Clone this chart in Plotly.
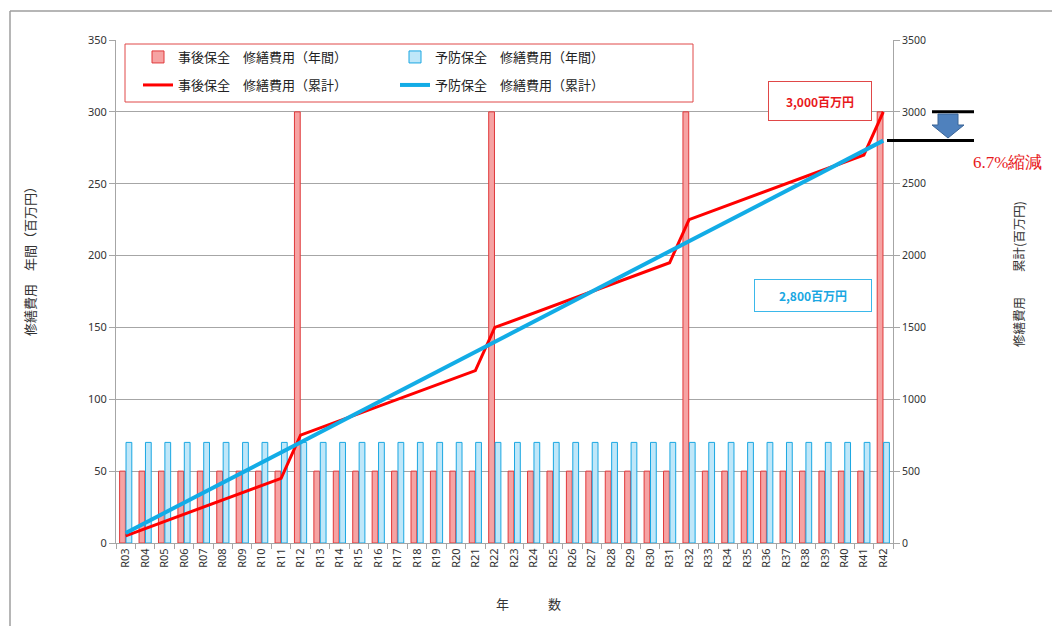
import plotly.graph_objects as go

# ---------------- data ----------------
years = ["R03", "R04", "R05", "R06", "R07", "R08", "R09", "R10", "R11", "R12",
         "R13", "R14", "R15", "R16", "R17", "R18", "R19", "R20", "R21", "R22",
         "R23", "R24", "R25", "R26", "R27", "R28", "R29", "R30", "R31", "R32",
         "R33", "R34", "R35", "R36", "R37", "R38", "R39", "R40", "R41", "R42"]

corrective_annual = [50, 50, 50, 50, 50, 50, 50, 50, 50, 300,
                     50, 50, 50, 50, 50, 50, 50, 50, 50, 300,
                     50, 50, 50, 50, 50, 50, 50, 50, 50, 300,
                     50, 50, 50, 50, 50, 50, 50, 50, 50, 300]

preventive_annual = [70, 70, 70, 70, 70, 70, 70, 70, 70, 70,
                     70, 70, 70, 70, 70, 70, 70, 70, 70, 70,
                     70, 70, 70, 70, 70, 70, 70, 70, 70, 70,
                     70, 70, 70, 70, 70, 70, 70, 70, 70, 70]

corrective_cumulative = [50, 100, 150, 200, 250, 300, 350, 400, 450, 750,
                         800, 850, 900, 950, 1000, 1050, 1100, 1150, 1200, 1500,
                         1550, 1600, 1650, 1700, 1750, 1800, 1850, 1900, 1950, 2250,
                         2300, 2350, 2400, 2450, 2500, 2550, 2600, 2650, 2700, 3000]

preventive_cumulative = [70, 140, 210, 280, 350, 420, 490, 560, 630, 700,
                         770, 840, 910, 980, 1050, 1120, 1190, 1260, 1330, 1400,
                         1470, 1540, 1610, 1680, 1750, 1820, 1890, 1960, 2030, 2100,
                         2170, 2240, 2310, 2380, 2450, 2520, 2590, 2660, 2730, 2800]

names = ["事後保全　修繕費用（年間）", "予防保全　修繕費用（年間）",
         "事後保全　修繕費用（累計）", "予防保全　修繕費用（累計）"]

total_corrective_label = "3,000百万円"
total_preventive_label = "2,800百万円"
reduction_label = "6.7%縮減"

# ---------------- styles ----------------
JP = "Noto Sans CJK JP"
RED = "#FF0000"
BLUE = "#12ACE6"
GRID = "#A6A6A6"

fig = go.Figure()

fig.add_trace(go.Bar(
    x=years, y=corrective_annual, name=names[0], legend="legend",
    marker=dict(color="#F6A3A3", line=dict(color="#E0393B", width=1)),
    yaxis="y"))
fig.add_trace(go.Bar(
    x=years, y=preventive_annual, name=names[1], legend="legend",
    marker=dict(color="#BFE7F9", line=dict(color="#1AA7E2", width=1)),
    yaxis="y"))
fig.add_trace(go.Scatter(
    x=years, y=corrective_cumulative, name=names[2], legend="legend2",
    mode="lines", line=dict(color=RED, width=3), yaxis="y2"))
fig.add_trace(go.Scatter(
    x=years, y=preventive_cumulative, name=names[3], legend="legend2",
    mode="lines", line=dict(color=BLUE, width=4), yaxis="y2"))

W = 777.0  # plot width px (paper)
L = 116.0
def px(x):
    return (x - L) / W

H = 503.0
B = 543.0
def py(y):
    return (B - y) / H

def v2(y):  # pixel y -> y2 data value
    return (B - y) / H * 3500

legend_common = dict(
    orientation="h", xanchor="left", yanchor="middle",
    bgcolor="rgba(0,0,0,0)", borderwidth=0,
    font=dict(family=JP, size=13, color="#222222"),
    entrywidth=212, itemclick=False, itemdoubleclick=False,
    traceorder="normal",
)

shapes = [
    # legend frame
    dict(type="rect", xref="paper", yref="paper",
         x0=px(125), x1=px(693), y0=py(102), y1=py(44),
         line=dict(color="#E04848", width=1), fillcolor="rgba(0,0,0,0)", layer="above"),
    # outer frame lines
    dict(type="line", xref="paper", yref="paper",
         x0=px(10), x1=px(10), y0=py(11), y1=py(626),
         line=dict(color="#9E9E9E", width=1.5)),
    dict(type="line", xref="paper", yref="paper",
         x0=px(10), x1=px(1052), y0=py(11), y1=py(11),
         line=dict(color="#9E9E9E", width=1.5)),
    # black level lines
    dict(type="line", xref="paper", yref="y2",
         x0=px(932), x1=px(974), y0=3000, y1=3000,
         line=dict(color="black", width=3)),
    dict(type="line", xref="paper", yref="y2",
         x0=px(887), x1=px(974), y0=2800, y1=2800,
         line=dict(color="black", width=3)),
    # down arrow
    dict(type="path", xref="paper", yref="y2",
         path=(f"M {px(938)} {v2(114)} L {px(958)} {v2(114)} L {px(958)} {v2(125)} "
               f"L {px(964)} {v2(125)} L {px(948)} {v2(138)} L {px(932)} {v2(125)} "
               f"L {px(938)} {v2(125)} Z"),
         fillcolor="#4F81BD", line=dict(color="#3A6496", width=1)),
]

ann_common = dict(xref="paper", yref="paper", showarrow=False,
                  xanchor="center", yanchor="middle")

annotations = [
    dict(ann_common, x=px(820), y=py(101),
         text=f"<b>{total_corrective_label}</b>",
         font=dict(family=JP, size=12, color="#E8191C"),
         bordercolor="#E04848", borderwidth=1, bgcolor="white",
         width=100, height=36),
    dict(ann_common, x=px(813), y=py(295.5),
         text=f"<b>{total_preventive_label}</b>",
         font=dict(family=JP, size=12, color="#1AA7E2"),
         bordercolor="#3BB8EA", borderwidth=1, bgcolor="white",
         width=114, height=29),
    dict(ann_common, x=px(1007), y=py(162),
         text=reduction_label,
         font=dict(family="Liberation Serif", size=17, color="#E8191C")),
    dict(ann_common, x=px(29), y=py(258),
         text="修繕費用　年間（百万円）", textangle=-90,
         font=dict(family=JP, size=13, color="#333333")),
    dict(ann_common, x=px(1018), y=py(274),
         text="修繕費用　　累計(百万円)", textangle=-90,
         font=dict(family=JP, size=12.5, color="#333333")),
    dict(ann_common, x=px(528), y=py(603),
         text="年　　　数",
         font=dict(family=JP, size=13, color="#333333")),
]

fig.update_layout(
    width=1052, height=626,
    margin=dict(l=116, r=159, t=40, b=83, pad=0),
    paper_bgcolor="white", plot_bgcolor="white",
    barmode="group", bargap=0.34, bargroupgap=0.1,
    font=dict(family=JP, size=11, color="#333333"),
    legend=dict(legend_common, x=px(138), y=py(57)),
    legend2=dict(legend_common, x=px(138), y=py(85)),
    xaxis=dict(
        type="category", categoryorder="array", categoryarray=years,
        tickangle=-90, tickson="boundaries", ticks="outside", ticklen=5,
        tickcolor=GRID, showline=True, linecolor=GRID, linewidth=1,
        showgrid=False, tickfont=dict(family="Noto Sans", size=11, color="#333333"),
        range=[-0.5, 39.5],
    ),
    yaxis=dict(
        range=[0, 350], dtick=50, ticks="outside", ticklen=6, tickcolor=GRID,
        showline=True, linecolor=GRID, linewidth=1,
        showgrid=True, gridcolor=GRID, gridwidth=1, zeroline=False,
        tickfont=dict(family="Noto Sans", size=11, color="#333333"),
    ),
    yaxis2=dict(
        overlaying="y", side="right", range=[0, 3500], dtick=500,
        ticks="outside", ticklen=6, tickcolor=GRID,
        showline=True, linecolor=GRID, linewidth=1,
        showgrid=False, zeroline=False,
        tickfont=dict(family="Noto Sans", size=10.5, color="#333333"),
    ),
    shapes=shapes,
    annotations=annotations,
    hovermode=False,
)

fig.write_html("out.html")
